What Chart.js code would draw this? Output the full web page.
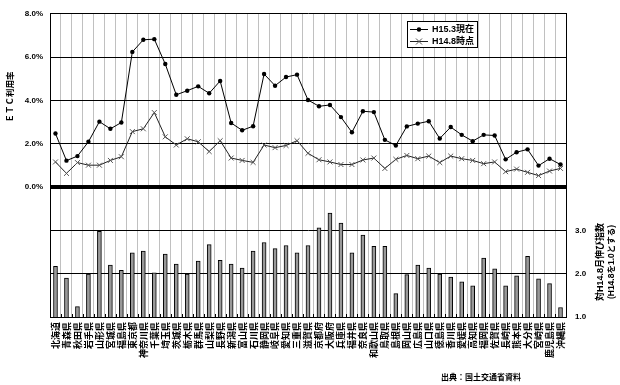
<!DOCTYPE html>
<html><head><meta charset="utf-8">
<script src="https://cdn.jsdelivr.net/npm/chart.js@4"></script>
<style>html,body{margin:0;padding:0;background:#fff;} #wrap{width:620px;height:385px;position:relative;}</style>
</head><body><div id="wrap"><canvas id="c" width="620" height="385"></canvas></div>
<script>
const prefectures = ['北海道','青森県','秋田県','岩手県','山形県','宮城県','福島県','東京都','神奈川県','千葉県','埼玉県','茨城県','栃木県','群馬県','山梨県','長野県','新潟県','富山県','石川県','静岡県','岐阜県','愛知県','三重県','滋賀県','京都府','大阪府','兵庫県','福井県','奈良県','和歌山県','鳥取県','島根県','岡山県','広島県','山口県','徳島県','香川県','愛媛県','高知県','福岡県','佐賀県','長崎県','熊本県','大分県','宮崎県','鹿児島県','沖縄県'];
const etcH153 = [2.47,1.22,1.43,2.09,3.02,2.69,2.98,6.24,6.80,6.83, 5.68,4.26,4.45,4.65,4.33,4.90,2.96,2.62,2.81,5.22, 4.68,5.08,5.19,4.02,3.73,3.79,3.23,2.53,3.50,3.46, 2.18,1.92,2.80,2.93,3.04,2.24,2.77,2.41,2.12,2.41, 2.38,1.28,1.61,1.74,0.99,1.31,1.04];
const etcH148 = [1.16,0.63,1.13,1.01,1.01,1.23,1.40,2.56,2.69,3.44, 2.32,1.94,2.23,2.09,1.64,2.14,1.34,1.23,1.14,1.94, 1.82,1.92,2.14,1.56,1.26,1.16,1.04,1.04,1.25,1.34, 0.86,1.28,1.46,1.31,1.43,1.13,1.43,1.31,1.23,1.08, 1.16,0.71,0.83,0.68,0.53,0.74,0.86];
const growthIndex = [2.17,1.90,1.24,1.99,2.98,2.20,2.08,2.48,2.52,2.02, 2.45,2.22,1.99,2.29,2.67,2.31,2.22,2.13,2.52,2.72, 2.58,2.65,2.48,2.65,3.06,3.40,3.17,2.48,2.89,2.63, 2.63,1.54,1.98,2.20,2.13,1.99,1.92,1.81,1.72,2.36, 2.11,1.72,1.95,2.40,1.88,1.77,1.22];
const seriesNames = ['H15.3現在','H14.8時点'];
const leftAxisTitle = 'ＥＴＣ利用率';
const rightAxisTitle = ['対H14.8月伸び指数','(H14.8を1.0とする)'];
const sourceText = '出典：国土交通省資料';

const LATIN = '"Liberation Sans", Arial, "Noto Sans CJK JP", sans-serif';
const CJK = '"Noto Sans CJK JP", sans-serif';

const decor = {
  id: 'decor',
  afterDraw(chart) {
    const ctx = chart.ctx;
    const a = chart.chartArea;
    const n = prefectures.length;
    const w = (a.right - a.left) / n;
    ctx.save();
    // small inner ticks at bottom
    ctx.strokeStyle = '#000'; ctx.lineWidth = 1;
    for (let i = 1; i < n; i++) {
      const x = Math.round(a.left + i * w) + 0.5;
      ctx.beginPath(); ctx.moveTo(x, a.bottom - 3); ctx.lineTo(x, a.bottom); ctx.stroke();
    }
    ctx.fillStyle = '#000';
    // left title
    ctx.save();
    ctx.translate(10, 97); ctx.rotate(-Math.PI / 2);
    ctx.textAlign = 'center'; ctx.textBaseline = 'middle';
    ctx.font = 'bold 8.5px ' + CJK;
    ctx.fillText(leftAxisTitle, 0, 0);
    ctx.restore();
    // right title
    ctx.save();
    ctx.translate(601, 262); ctx.rotate(-Math.PI / 2);
    ctx.textAlign = 'center'; ctx.textBaseline = 'middle';
    ctx.font = 'bold 9px ' + LATIN;
    ctx.fillText(rightAxisTitle[0], 0, 0);
    ctx.font = 'bold 8.5px ' + LATIN;
    ctx.fillText(rightAxisTitle[1], 0, 11);
    ctx.restore();
    // legend
    ctx.fillStyle = '#fff';
    ctx.fillRect(407, 21, 70, 26);
    ctx.strokeStyle = '#000'; ctx.lineWidth = 1;
    ctx.strokeRect(407.5, 21.5, 70, 26);
    ctx.beginPath(); ctx.moveTo(410, 29.5); ctx.lineTo(428, 29.5); ctx.stroke();
    ctx.fillStyle = '#000';
    ctx.beginPath(); ctx.arc(419, 29.5, 2.2, 0, Math.PI * 2); ctx.fill();
    ctx.strokeStyle = '#222';
    ctx.beginPath(); ctx.moveTo(410, 41.5); ctx.lineTo(428, 41.5); ctx.stroke();
    ctx.strokeStyle = '#555';
    ctx.beginPath(); ctx.moveTo(416, 38.5); ctx.lineTo(422, 44.5); ctx.moveTo(422, 38.5); ctx.lineTo(416, 44.5); ctx.stroke();
    ctx.fillStyle = '#000';
    ctx.font = 'bold 9px ' + LATIN;
    ctx.textAlign = 'left'; ctx.textBaseline = 'middle';
    ctx.fillText(seriesNames[0], 432, 29.5);
    ctx.fillText(seriesNames[1], 432, 41.5);
    // source
    ctx.font = 'bold 8px ' + CJK;
    ctx.textAlign = 'center';
    ctx.fillText(sourceText, 481, 377);
    ctx.restore();
  }
};

new Chart(document.getElementById('c'), {
  data: {
    labels: prefectures,
    datasets: [
      { type: 'line', label: seriesNames[0], data: etcH153, yAxisID: 'y', borderColor: '#000', borderWidth: 1,
        pointStyle: 'circle', pointRadius: 2.2, pointBackgroundColor: '#000', pointBorderColor: '#000', pointBorderWidth: 0, tension: 0, order: 1 },
      { type: 'line', label: seriesNames[1], data: etcH148, yAxisID: 'y', borderColor: '#222', borderWidth: 1,
        pointStyle: 'crossRot', pointRadius: 3.5, pointBorderColor: '#555', pointBorderWidth: 1, tension: 0, order: 2 },
      { type: 'bar', label: '伸び指数', data: growthIndex, yAxisID: 'y1', backgroundColor: '#999999', borderColor: '#000',
        borderWidth: 1, barThickness: 4, order: 3 }
    ]
  },
  options: {
    responsive: false, animation: false, devicePixelRatio: 1,
    layout: { padding: { top: 8, left: 0, right: 0, bottom: 0 } },
    plugins: { legend: { display: false }, tooltip: { enabled: false } },
    scales: {
      x: {
        type: 'category', offset: true,
        grid: { offset: true, color: '#c0c0c0', lineWidth: 1, drawTicks: false },
        border: { color: '#000', width: 1 },
        ticks: { autoSkip: false, maxRotation: 90, minRotation: 90, padding: 5, color: '#000',
          font: { family: CJK, size: 9, weight: 'bold' } },
        afterFit(s) { s.height = 68; }
      },
      y: {
        position: 'left', min: -6, max: 8,
        ticks: { stepSize: 2, padding: 7, color: '#000',
          callback: v => v >= 0 ? v.toFixed(1) + '%' : '',
          font: { family: LATIN, size: 8, weight: 'bold' } },
        grid: { color: '#000', drawTicks: false, lineWidth: c => (c.tick && c.tick.value === 0) ? 4 : 1 },
        border: { color: '#000', width: 1 },
        afterFit(s) { s.width = 50; }
      },
      y1: {
        position: 'right', min: 1, max: 8,
        ticks: { stepSize: 1, padding: 9, color: '#000',
          callback: v => v <= 3 ? v.toFixed(1) : '',
          font: { family: LATIN, size: 8, weight: 'bold' } },
        grid: { drawOnChartArea: false, drawTicks: false },
        border: { color: '#000', width: 1 },
        afterFit(s) { s.width = 54; }
      }
    }
  },
  plugins: [decor]
});
</script>
</body></html>
